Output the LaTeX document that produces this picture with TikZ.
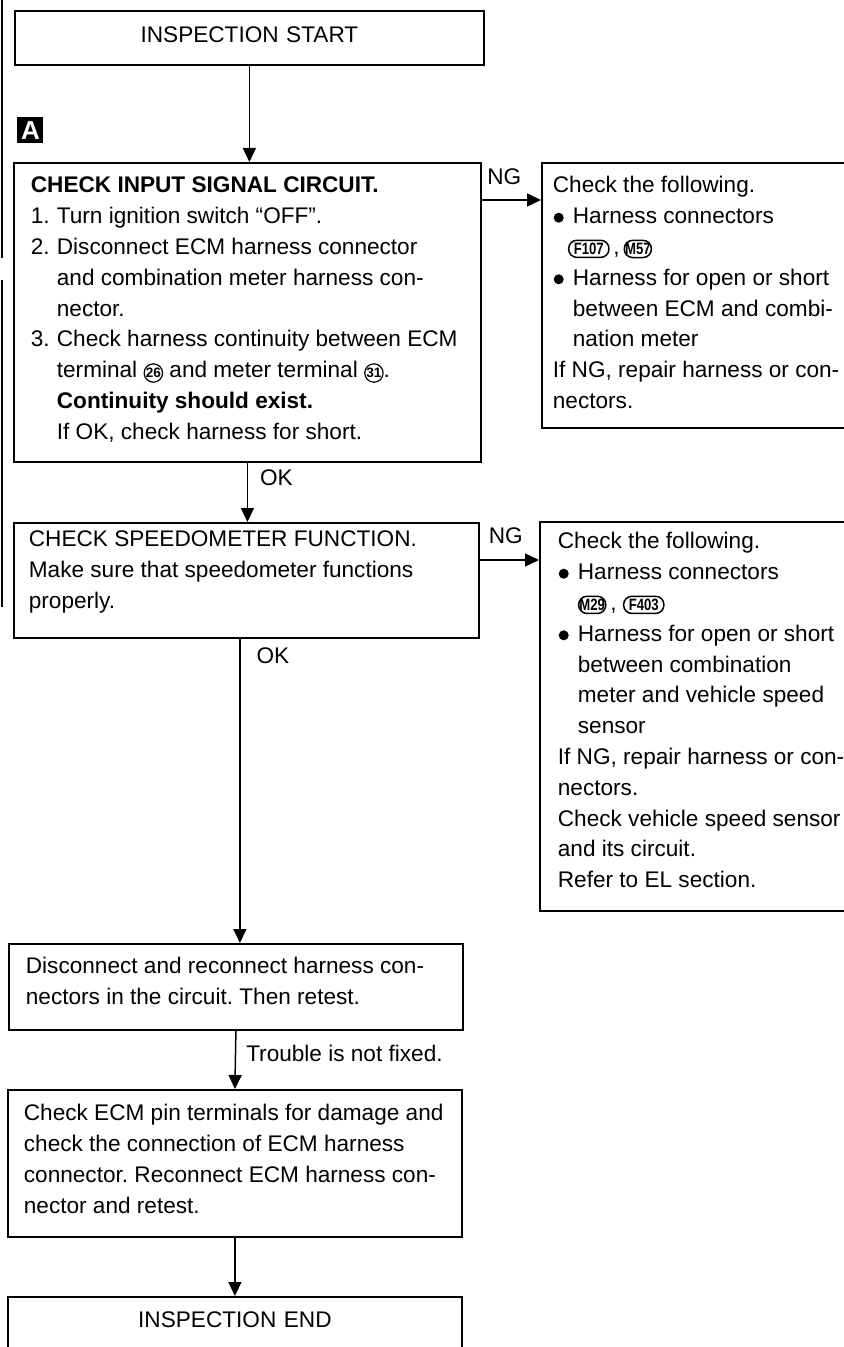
\documentclass[tikz,border=0pt]{standalone}
\usepackage{fontspec}
\setmainfont{Liberation Sans}
\usepackage{graphicx}
\usepackage{tikz}
\usetikzlibrary{arrows.meta, positioning}

\newcommand{\stepno}[1]{\makebox[13pt][l]{#1}}
\newcommand{\hang}{\hspace*{13pt}}
\newcommand{\blt}{\makebox[10pt][l]{\hspace{0.4pt}\tikz[baseline=-3pt]\fill (0,0) circle (2.5pt);}}
\newcommand{\ind}{\hspace*{10pt}}
\newcommand{\termno}[1]{\tikz[baseline=(tn.base)]\node[circle, draw, line width=0.6pt, inner sep=0pt, minimum size=9.2pt, font=\fontsize{6.8}{6.8}\selectfont\bfseries] (tn) {#1};}
\newcommand{\harnessid}[2][1.2pt]{\tikz[baseline=(hid.base)]\node[draw, rounded corners=4.2pt, line width=0.75pt, inner xsep=#1, inner ysep=0.4pt, minimum height=8.6pt, font=\fontsize{8.2}{8.2}\selectfont\bfseries] (hid) {\scalebox{0.8}[1]{#2}};}

\begin{document}
\begin{tikzpicture}[x=0.5pt, y=-0.5pt, >={Triangle[length=7pt, width=6.5pt]},
  box/.style={draw, line width=0.9pt, anchor=north west, inner ysep=0pt,
    font=\fontsize{11.3}{15.4}\selectfont},
  textbox/.style={box, align=left,
    execute at begin node={\spaceskip=0pt\xspaceskip=0pt\frenchspacing}},
  endbox/.style={box, align=center},
  conn/.style={->, line width=0.75pt},
  lbl/.style={font=\fontsize{11.3}{13}\selectfont, inner sep=0pt},
  marker/.style={fill=black, text=white, anchor=north west, minimum size=13pt, inner sep=0pt,
    font=\fontsize{13}{13}\selectfont\bfseries}
]
  \useasboundingbox (0,0) rectangle (843,1347);
  % edge of the scanned page
  \draw[line width=0.6pt] (2,0) -- (2,258) (2,280) -- (2,607);

  \node[endbox, inner xsep=5pt, text width=224.5pt, text height=16pt, text depth=11pt]
    (start) at (14,10) {INSPECTION START};

  \node[marker] (marka) at (17,117) {A};

  \node[textbox, inner xsep=8.5pt, text width=216.5pt, text height=15pt, text depth=134.5pt]
    (input) at (13,162) {\textbf{CHECK INPUT SIGNAL CIRCUIT.}\\
    \stepno{1.}Turn ignition switch “OFF”.\\
    \stepno{2.}Disconnect ECM harness connector\\
    \hang and combination meter harness con-\\
    \hang nector.\\
    \stepno{3.}Check harness continuity between ECM\\
    \hang terminal \termno{26} and meter terminal \termno{31}.\\
    \hang\textbf{Continuity should exist.}\\
    \hang If OK, check harness for short.};

  \node[textbox, inner xsep=5.5pt, text width=159pt, text height=15pt, text depth=117.5pt]
    (checka) at (541,162) {Check the following.\\
    \blt Harness connectors\\
    \hspace*{7.5pt}\harnessid[2.6pt]{F107}\,,\,\harnessid[0.4pt]{M57}\\
    \blt Harness for open or short\\
    \ind between ECM and combi-\\
    \ind nation meter\\
    If NG, repair harness or con-\\
    nectors.};

  \node[textbox, inner xsep=7.5pt, text width=217.5pt, text height=12pt, text depth=45.5pt]
    (speedo) at (13,522) {CHECK SPEEDOMETER FUNCTION.\\
    Make sure that speedometer functions\\
    properly.};

  \node[textbox, inner xsep=9pt, text width=152pt, text height=13.5pt, text depth=181pt]
    (checkb) at (539,521) {Check the following.\\
    \blt Harness connectors\\
    \hspace*{10pt}\harnessid[0.4pt]{M29}\,,\;\harnessid[2.6pt]{F403}\\
    \blt Harness for open or short\\
    \ind between combination\\
    \ind meter and vehicle speed\\
    \ind sensor\\
    If NG, repair harness or con-\\
    nectors.\\
    Check vehicle speed sensor\\
    and its circuit.\\
    Refer to EL section.};

  \node[textbox, inner xsep=8.5pt, text width=210pt, text height=15pt, text depth=28pt]
    (recon) at (8,943) {Disconnect and reconnect harness con-\\
    nectors in the circuit. Then retest.};

  \node[textbox, inner xsep=8pt, text width=211pt, text height=15.5pt, text depth=58pt]
    (ecm) at (7,1089) {Check ECM pin terminals for damage and\\
    check the connection of ECM harness\\
    connector. Reconnect ECM harness con-\\
    nector and retest.};

  \node[endbox, inner xsep=5pt, text width=217pt, text height=15.5pt, text depth=16.5pt]
    (finish) at (7,1296) {INSPECTION END};

  % flow
  \draw[conn] (start.south) -- (start.south |- input.north);
  \draw[conn] ([yshift=-19pt]input.north east) -- ([yshift=-19pt]input.north east -| checka.west)
    node[lbl, pos=0.38, anchor=base, yshift=7.5pt] (nga) {NG};
  \draw[conn] (input.south) -- (input.south |- speedo.north)
    node[lbl, pos=0.26, anchor=west, xshift=6pt] (oka) {OK};
  \draw[conn] ([yshift=-19pt]speedo.north east) -- ([yshift=-19pt]speedo.north east -| checkb.west)
    node[lbl, pos=0.44, anchor=base, yshift=8.5pt] (ngb) {NG};
  \draw[conn] ([xshift=-3.25pt]speedo.south) -- ([xshift=-3.25pt]speedo.south |- recon.north)
    node[lbl, pos=0.055, anchor=west, xshift=8pt] (okb) {OK};
  \draw[conn] (recon.south) -- (ecm.north)
    node[lbl, pos=0.38, anchor=west, xshift=5pt] (trouble) {Trouble is not fixed.};
  \draw[conn] (ecm.south) -- (finish.north);
\end{tikzpicture}
\end{document}
